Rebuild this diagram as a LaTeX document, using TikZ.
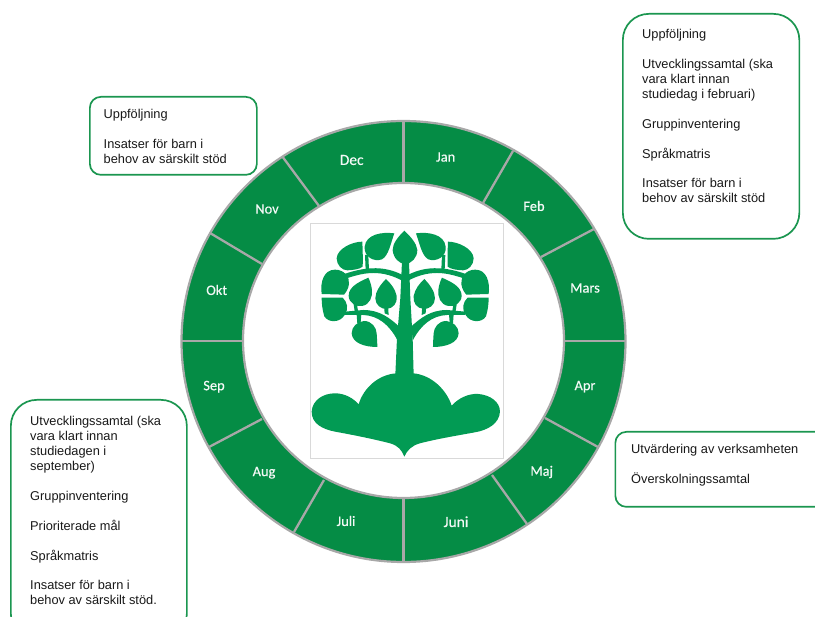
\documentclass[tikz,border=0pt]{standalone}
\usepackage{fontspec}
\setmainfont{Liberation Sans}
\newfontfamily\monthfont[FakeBold=0.4]{Carlito}
\definecolor{ringgreen}{HTML}{058C45}
\definecolor{treegreen}{HTML}{029B54}
\definecolor{boxgreen}{HTML}{1B9650}
\definecolor{ringgray}{HTML}{A8A8A8}
\tikzset{
  note/.style={draw=boxgreen,line width=1.7pt,fill=white,rounded corners=#1,inner sep=0pt},
  notetext/.style={anchor=north west,align=left,inner sep=0pt,text=black!90,font=\fontsize{12.8}{14.9}\selectfont},
  month/.style={text=white!95!ringgreen,inner sep=0pt,font=\monthfont\fontsize{#1}{#1}\selectfont},
  month/.default=14.4,
  divider/.style={draw=ringgray,line width=2.3pt},
  treepart/.style={fill=treegreen,draw=none}
}
\newcommand{\halftree}{%
  % leaves
  \fill[treepart] (283,55) .. controls (245,50) and (198,58) .. (194,95) .. controls (191,125) and (222,142) .. (246,133) .. controls (266,122) and (272,85) .. (283,55) -- cycle;
  \fill[treepart] (187,80) .. controls (158,80) and (112,100) .. (110,130) .. controls (110,150) and (126,166) .. (142,166) .. controls (160,165) and (178,163) .. (188,155) .. controls (189,130) and (188,105) .. (187,80) -- cycle;
  \fill[treepart] (65,237) .. controls (60,200) and (72,164) .. (105,164) .. controls (135,164) and (149,188) .. (147,207) .. controls (145,222) and (138,232) .. (132,239) -- cycle;
  \fill[treepart] (65,248) -- (128,248) .. controls (143,262) and (146,282) .. (134,300) .. controls (120,324) and (85,324) .. (73,304) .. controls (67,285) and (65,265) .. (65,248) -- cycle;
  \fill[treepart] (205,188) .. controls (185,198) and (146,212) .. (146,242) .. controls (146,265) and (170,276) .. (186,273) .. controls (210,269) and (218,245) .. (216,225) .. controls (214,210) and (210,198) .. (205,188) -- cycle;
  \fill[treepart] (258,192) .. controls (242,208) and (226,230) .. (226,250) .. controls (226,270) and (244,283) .. (260,282) .. controls (280,280) and (293,264) .. (290,243) .. controls (286,222) and (272,205) .. (258,192) -- cycle;
  \fill[treepart] (232,396) .. controls (195,396) and (157,385) .. (155,355) .. controls (155,335) and (172,320) .. (192,318) .. controls (216,318) and (229,338) .. (230,355) .. controls (231,370) and (232,385) .. (232,396) -- cycle;
  % upper branch and stems
  \fill[treepart] (308,180) .. controls (280,166) and (250,158) .. (215,160) .. controls (190,161) and (165,166) .. (130,178) -- (140,190) .. controls (170,180) and (195,174) .. (220,174) .. controls (250,174) and (280,182) .. (308,198) -- cycle;
  \fill[treepart] (195,120) -- (205,120) -- (207,165) -- (197,165) -- cycle;
  % lower branch and stems
  \fill[treepart] (298,335) .. controls (270,310) and (240,285) .. (190,285) -- (135,290) -- (135,300) -- (190,300) .. controls (235,302) and (268,330) .. (292,375) -- cycle;
  \fill[treepart] (160,262) -- (170,262) -- (175,295) -- (165,295) -- cycle;
  \fill[treepart] (252,270) -- (264,270) -- (266,300) -- (254,295) -- cycle;
  \fill[treepart] (170,298) -- (184,298) -- (182,322) -- (172,326) -- cycle;
}
\begin{document}
\begin{tikzpicture}[x=1pt,y=-1pt]
\useasboundingbox (0,0) rectangle (815,617);
\clip (0,0) rectangle (815,617);
% ring
\fill[ringgreen,even odd rule,draw=ringgray,line width=2.2pt]
  (403.5,341.5) ellipse[x radius=222,y radius=220.5]
  (403.5,340.5) ellipse[x radius=160.5,y radius=157.5];
\foreach \xa/\ya/\xb/\yb in {
  403.5/121/403.5/183, 513/151/483/203, 594/229/541/257, 626/341/564/341,
  598/447/545/418, 527/524/492/475, 403.5/562/403.5/498, 294/532/324/480,
  209/447/262/419, 181/341/243/341, 210/233/262/264, 282.7/157/319/206}{
  \draw[divider] (\xa,\ya) -- (\xb,\yb);
}
% logo
\draw[draw=black!15,line width=0.8pt,fill=white] (310.5,223.5) rectangle (503,458);
\begin{scope}[shift={(300,215)},x=0.3333pt,y=-0.3333pt]
  \halftree
  \begin{scope}[shift={(631,0)},x=-0.3333pt]
    \halftree
  \end{scope}
  % centre leaf
  \fill[treepart] (313,47) .. controls (295,65) and (278,85) .. (278,105) .. controls (280,130) and (298,146) .. (315,147) .. controls (335,146) and (352,128) .. (352,105) .. controls (350,85) and (332,65) .. (313,47) -- cycle;
  % trunk
  \fill[treepart] (306,140) -- (327,140) -- (331,250) -- (338,370) -- (341,480) -- (286,480) -- (291,370) -- (301,250) -- cycle;
  % hill
  \fill[treepart] (313,725) .. controls (305,705) and (295,692) .. (270,685) .. controls (220,672) and (160,660) .. (105,650) .. controls (65,642) and (35,625) .. (35,590) .. controls (37,555) and (70,535) .. (105,535) .. controls (135,535) and (160,550) .. (176,568) .. controls (190,520) and (235,478) .. (290,475) -- (340,475) .. controls (395,480) and (440,525) .. (455,572) .. controls (475,550) and (505,535) .. (535,537) .. controls (570,540) and (600,560) .. (600,590) .. controls (598,625) and (565,645) .. (525,652) .. controls (470,662) and (410,672) .. (360,685) .. controls (335,692) and (322,705) .. (313,725) -- cycle;
\end{scope}
% notes
\node[note=26pt,minimum width=176.5pt,minimum height=225pt,anchor=north west] (boxTR) at (622,13) {};
\node[note=11pt,minimum width=167pt,minimum height=78pt,anchor=north west] (boxNov) at (89,96) {};
\node[note=11pt,minimum width=215pt,minimum height=75pt,anchor=north west] (boxApr) at (614.5,431) {};
\node[note=26pt,minimum width=176pt,minimum height=240pt,anchor=north west] (boxSep) at (10,399) {};
\node[notetext] (txtTR) at (642,29.5) {Uppföljning\\[14.9pt]Utvecklingssamtal (ska\\vara klart innan\\studiedag i februari)\\[14.9pt]Gruppinventering\\[14.9pt]Språkmatris\\[14.9pt]Insatser för barn i\\behov av särskilt stöd};
\node[notetext] (txtNov) at (103.5,109.5) {Uppföljning\\[14.9pt]Insatser för barn i\\behov av särskilt stöd};
\node[notetext] (txtApr) at (631,444) {Utvärdering av verksamheten\\[14.9pt]Överskolningssamtal};
\node[notetext] (txtSep) at (30,416.5) {Utvecklingssamtal (ska\\vara klart innan\\studiedagen i\\september)\\[14.9pt]Gruppinventering\\[14.9pt]Prioriterade mål\\[14.9pt]Språkmatris\\[14.9pt]Insatser för barn i\\behov av särskilt stöd.};
% months
\node[month=15.5] (dec) at (351.7,160) {Dec};
\node[month] (jan) at (445.7,157) {Jan};
\node[month] (feb) at (534,206) {Feb};
\node[month] (mars) at (585,288) {Mars};
\node[month] (apr) at (585,386.7) {Apr};
\node[month] (maj) at (541.7,472) {Maj};
\node[month=15.5] (juni) at (456,521.7) {Juni};
\node[month] (juli) at (346,521) {Juli};
\node[month] (aug) at (264,472.7) {Aug};
\node[month] (sep) at (214,386.7) {Sep};
\node[month] (okt) at (216.7,290) {Okt};
\node[month] (nov) at (267,209) {Nov};
\end{tikzpicture}
\end{document}
